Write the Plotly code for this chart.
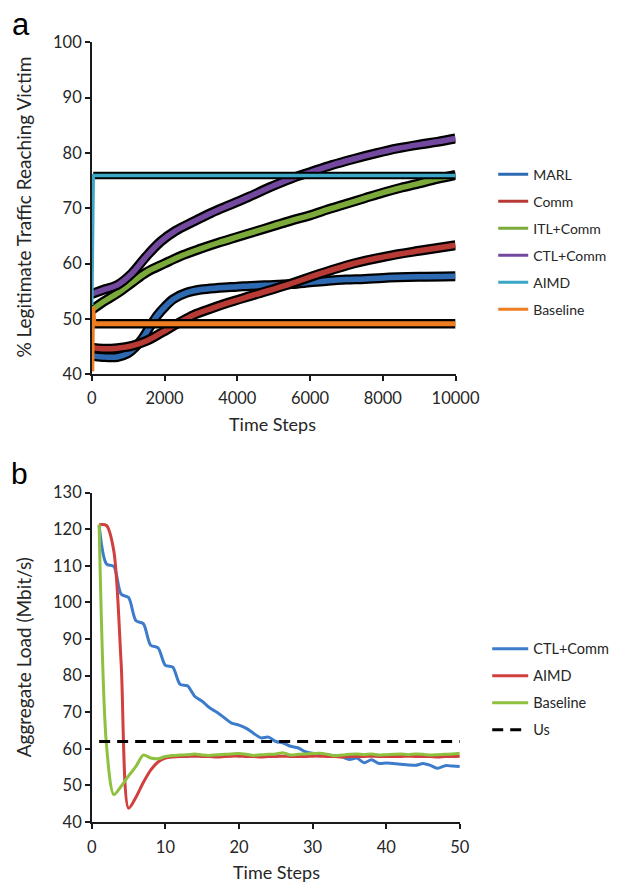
import plotly.graph_objects as go

# ---------------- Panel a: % legitimate traffic reaching victim ----------------
MARL_STEPS = [0, 300, 700, 1000, 1200, 1400, 1600, 1800, 2000, 2250, 2600, 3000, 3500,
              4000, 4500, 5000, 5500, 6000, 6500, 7000, 7500, 8000, 9000, 10000]
MARL_VALS = [43.3, 43.1, 43.1, 43.8, 44.9, 46.5, 48.6, 50.6, 52.1, 53.6, 54.7, 55.3, 55.6,
             55.8, 56.0, 56.1, 56.3, 56.6, 56.9, 57.1, 57.2, 57.4, 57.6, 57.7]

COMM_STEPS = [0, 300, 700, 1100, 1500, 1900, 2400, 2800, 3300, 3700, 4500, 5400, 6300,
              7200, 8100, 9000, 10000]
COMM_VALS = [44.8, 44.6, 44.7, 45.1, 46.0, 47.4, 49.3, 50.7, 51.9, 52.8, 54.4, 56.2, 58.2,
             60.0, 61.3, 62.3, 63.3]

ITL_STEPS = [0, 300, 700, 1100, 1500, 2000, 2500, 3000, 3500, 4000, 4500, 5000, 5500,
             6000, 6500, 7000, 7500, 8000, 8500, 9000, 9500, 10000]
ITL_VALS = [51.6, 53.0, 54.6, 56.5, 58.4, 60.0, 61.5, 62.7, 63.8, 64.8, 65.8, 66.8, 67.8,
            68.7, 69.8, 70.8, 71.8, 72.8, 73.7, 74.5, 75.3, 76.0]

CTL_STEPS = [0, 300, 700, 1100, 1500, 1900, 2300, 2800, 3300, 3800, 4300, 4900, 5500,
             6000, 6600, 7200, 7800, 8400, 9000, 9500, 10000]
CTL_VALS = [54.5, 55.2, 56.1, 58.2, 61.3, 64.0, 65.9, 67.6, 69.2, 70.6, 72.0, 73.8, 75.4,
            76.5, 77.8, 78.9, 79.9, 80.8, 81.5, 82.0, 82.6]

AIMD_STEPS = [0, 40, 10000]
AIMD_VALS = [52.5, 75.9, 75.9]

BASE_STEPS = [0, 20, 60, 10000]
BASE_VALS = [40.5, 52.2, 49.1, 49.1]

TOP_XTICKS = [0, 2000, 4000, 6000, 8000, 10000]
TOP_XLABELS = ["0", "2000", "4000", "6000", "8000", "10000"]
TOP_YTICKS = [40, 50, 60, 70, 80, 90, 100]

# ---------------- Panel b: aggregate load ----------------
LOAD_STEPS = list(range(1, 51))
LOAD_CTL = [121.0, 110.5, 109.8, 102.2, 101.3, 95.0, 94.2, 88.3, 87.6, 82.8,
            82.3, 77.6, 77.2, 74.3, 73.0, 71.2, 70.0, 68.5, 67.0, 66.5,
            65.6, 64.2, 63.0, 63.2, 62.0, 61.6, 60.7, 60.3, 59.2, 58.8,
            58.6, 58.4, 58.1, 57.8, 57.1, 57.5, 56.2, 57.0, 56.0, 56.1,
            56.0, 55.8, 55.6, 55.5, 56.0, 55.5, 54.7, 55.4, 55.3, 55.2]
LOAD_AIMD = [121.2, 121.0, 114.0, 83.0, 43.8, 46.8, 50.8, 54.2, 56.4, 57.5,
             57.8, 57.9, 57.9, 58.0, 57.9, 57.9, 57.8, 57.9, 58.0, 58.0,
             57.9, 57.9, 57.8, 57.9, 57.9, 58.0, 57.9, 57.9, 57.9, 58.0,
             58.0, 57.9, 57.9, 57.8, 57.9, 57.9, 57.9, 58.0, 57.9, 57.9,
             57.9, 57.9, 58.0, 57.9, 57.9, 57.9, 57.8, 57.9, 57.9, 58.0]
LOAD_BASE = [121.3, 61.0, 47.5, 49.8, 52.6, 55.2, 58.3, 57.5, 57.3, 57.9,
             58.2, 58.3, 58.4, 58.6, 58.3, 58.2, 58.4, 58.5, 58.6, 58.7,
             58.5, 58.2, 58.4, 58.5, 58.6, 58.9, 58.3, 58.5, 58.6, 58.7,
             58.8, 58.5, 58.1, 58.3, 58.5, 58.6, 58.4, 58.6, 58.3, 58.4,
             58.5, 58.6, 58.4, 58.6, 58.5, 58.3, 58.4, 58.5, 58.6, 58.8]
US_STEPS = [1, 50]
US_VALS = [62.0, 62.0]

BOT_XTICKS = [0, 10, 20, 30, 40, 50]
BOT_YTICKS = [40, 50, 60, 70, 80, 90, 100, 110, 120, 130]

W, H = 624, 892
TICK_FONT = dict(family="Lato", size=16.5, color="#262626")

fig = go.Figure()

# Panel a series: black halo under each coloured line
top_series = [
    ("MARL", MARL_STEPS, MARL_VALS, "#2E6AB1", 5.5, 10, 0, "spline"),
    ("Comm", COMM_STEPS, COMM_VALS, "#B83A35", 5.5, 10, 0, "spline"),
    ("ITL+Comm", ITL_STEPS, ITL_VALS, "#7BAA3A", 5.5, 10, 0, "spline"),
    ("CTL+Comm", CTL_STEPS, CTL_VALS, "#7349A0", 5.5, 10, 0, "spline"),
    ("AIMD", AIMD_STEPS, AIMD_VALS, "#3BA6C6", 3.5, 7.5, 1, "linear"),
    ("Baseline", BASE_STEPS, BASE_VALS, "#EE7D22", 5.0, 9.5, 2, "linear"),
]
for name, xs, ys, color, w, halo, start, shape in top_series:
    fig.add_trace(go.Scatter(
        x=xs[start:], y=ys[start:], mode="lines", xaxis="x", yaxis="y",
        line=dict(color="black", width=halo, shape=shape),
        showlegend=False, hoverinfo="skip"))
    fig.add_trace(go.Scatter(
        x=xs, y=ys, mode="lines", xaxis="x", yaxis="y",
        line=dict(color=color, width=w, shape=shape),
        showlegend=False, name=name))
# legend entries for panel a
for i, (name, xs, ys, color, w, halo, start, shape) in enumerate(top_series):
    fig.add_trace(go.Scatter(
        x=[None], y=[None], mode="lines", xaxis="x", yaxis="y", name=name,
        line=dict(color=color, width=3), legend="legend", legendgroup=f"a{i}"))

# Panel b series
bot_series = [
    ("CTL+Comm", LOAD_CTL, "#3D7CCB"),
    ("AIMD", LOAD_AIMD, "#D23F3F"),
    ("Baseline", LOAD_BASE, "#8DC13F"),
]
for i, (name, ys, color) in enumerate(bot_series):
    fig.add_trace(go.Scatter(
        x=LOAD_STEPS, y=ys, mode="lines", xaxis="x2", yaxis="y2", name=name,
        line=dict(color=color, width=3, shape="spline", smoothing=0.8),
        legend="legend2", legendgroup=f"b{i}"))
fig.add_trace(go.Scatter(
    x=US_STEPS, y=US_VALS, mode="lines", xaxis="x2", yaxis="y2", name="Us",
    line=dict(color="black", width=3, dash="11px,7px"),
    legend="legend2", legendgroup="b3"))

axis_common = dict(showgrid=False, zeroline=False, showline=True, linecolor="#1a1a1a",
                   linewidth=1.5, ticks="outside", ticklen=5, tickwidth=1.5,
                   tickcolor="#1a1a1a", tickfont=TICK_FONT, mirror=False)

fig.update_layout(
    width=W, height=H, margin=dict(l=0, r=0, t=0, b=0),
    paper_bgcolor="white", plot_bgcolor="white",
    xaxis=dict(domain=[91 / W, 472.5 / W], range=[0, 10000], tickvals=TOP_XTICKS,
               ticktext=TOP_XLABELS, ticklabelstandoff=3, anchor="y", **axis_common),
    yaxis=dict(domain=[1 - 372.5 / H, 1 - 33 / H], range=[40, 100], tickvals=TOP_YTICKS,
               anchor="x", **axis_common),
    xaxis2=dict(domain=[91 / W, 477 / W], range=[0, 50], tickvals=BOT_XTICKS,
                ticklabelstandoff=4, anchor="y2", **axis_common),
    yaxis2=dict(domain=[1 - 830.7 / H, 1 - 493.6 / H], range=[40, 130], tickvals=BOT_YTICKS,
                anchor="x2", **axis_common),
    legend=dict(x=512 / W, y=1 - 152.1 / H, xanchor="left", yanchor="top",
                font=dict(family="Lato", size=14, color="#262626"),
                tracegroupgap=5.8, bgcolor="rgba(0,0,0,0)", itemwidth=30),
    legend2=dict(x=505.7 / W, y=1 - 637.1 / H, xanchor="left", yanchor="top",
                 font=dict(family="Lato", size=14.5, color="#262626"),
                 tracegroupgap=5.15, bgcolor="rgba(0,0,0,0)", itemwidth=36),
    showlegend=True,
)

annotations = [
    dict(text="a", x=16.5 / W, y=1 - 14.5 / H, font=dict(family="Liberation Sans", size=31, color="black")),
    dict(text="b", x=15.5 / W, y=1 - 474.5 / H, font=dict(family="Liberation Sans", size=30, color="black")),
    dict(text="% Legitimate Traffic Reaching Victim", x=19 / W, y=1 - 202 / H,
         textangle=-90, font=dict(family="Lato", size=19, color="#262626")),
    dict(text="Time Steps", x=281 / W, y=1 - 423 / H,
         font=dict(family="Lato", size=18, color="#262626")),
    dict(text="Aggregate Load (Mbit/s)", x=19 / W, y=1 - 662 / H,
         textangle=-90, font=dict(family="Lato", size=19, color="#262626")),
    dict(text="Time Steps", x=285 / W, y=1 - 882 / H,
         font=dict(family="Lato", size=18, color="#262626")),
]
for a in annotations:
    a.update(xref="paper", yref="paper", showarrow=False, xanchor="center", yanchor="middle")
fig.update_layout(annotations=annotations)

fig.write_html("out.html")
